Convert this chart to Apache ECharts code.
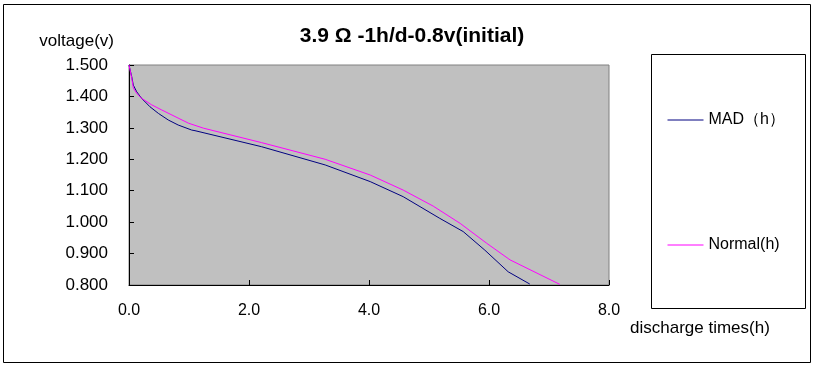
<!DOCTYPE html>
<html>
<head>
<meta charset="utf-8">
<script src="https://cdn.jsdelivr.net/npm/echarts@6/dist/echarts.min.js"></script>
<style>
html,body{margin:0;padding:0;background:#fff;}
#chart{width:815px;height:367px;}
</style>
</head>
<body>
<div id="chart"></div>
<script>
var titleText = '3.9 Ω -1h/d-0.8v(initial)';
var seriesNames = ['MAD（h）', 'Normal(h)'];
var xTicks = [0, 2, 4, 6, 8];
var yTicks = [0.8, 0.9, 1.0, 1.1, 1.2, 1.3, 1.4, 1.5];

var madTimes = [0, 0.045, 0.072, 0.128, 0.21, 0.35, 0.49, 0.655, 0.82, 1.045, 1.1, 2.21, 3.27, 4.02, 4.57, 5.18, 5.57, 5.93, 6.32, 6.68];
var madVolts = [1.5, 1.463, 1.436, 1.415, 1.394, 1.367, 1.346, 1.325, 1.309, 1.293, 1.291, 1.240, 1.182, 1.129, 1.081, 1.012, 0.970, 0.911, 0.842, 0.803];

var normalTimes = [0, 0.017, 0.045, 0.072, 0.128, 0.21, 0.38, 0.545, 0.767, 0.99, 1.24, 2.21, 3.27, 4.02, 4.57, 5.07, 5.52, 5.96, 6.35, 7.18];
var normalVolts = [1.5, 1.495, 1.459, 1.427, 1.41, 1.394, 1.373, 1.357, 1.336, 1.315, 1.299, 1.253, 1.2, 1.15, 1.102, 1.051, 0.996, 0.933, 0.88, 0.802];

function pairs(xs, ys) {
  return xs.map(function (x, i) { return [x, ys[i]]; });
}

var chart = echarts.init(document.getElementById('chart'));
var font = 'Arial, "Liberation Sans", sans-serif';

function legendFor(name, top) {
  return {
    orient: 'horizontal',
    left: 667,
    top: top,
    padding: 0,
    itemWidth: 36,
    itemHeight: 14,
    itemGap: 0,
    itemStyle: { opacity: 0 },
    lineStyle: { width: 1 },
    textStyle: { fontSize: 16, color: '#000', fontFamily: font },
    data: [name]
  };
}

chart.setOption({
  animation: false,
  backgroundColor: '#ffffff',
  textStyle: { fontFamily: font },
  title: {
    text: titleText,
    left: 407,
    textAlign: 'center',
    top: 21,
    textStyle: { fontSize: 21, fontWeight: 'bold', color: '#000', fontFamily: font }
  },
  grid: {
    left: 129, top: 65, width: 480, height: 220,
    show: true, backgroundColor: '#C0C0C0', borderColor: '#808080', borderWidth: 1
  },
  legend: [legendFor(seriesNames[0], 112), legendFor(seriesNames[1], 237)],
  xAxis: {
    type: 'value',
    min: xTicks[0],
    max: xTicks[xTicks.length - 1],
    interval: 2,
    axisLine: { show: true, lineStyle: { color: '#000', width: 1 } },
    axisTick: { show: true, inside: true, length: 5, lineStyle: { color: '#000' } },
    axisLabel: {
      margin: 18, fontSize: 16, color: '#000', fontFamily: font,
      formatter: function (v) { return v.toFixed(1); }
    },
    splitLine: { show: false }
  },
  yAxis: {
    type: 'value',
    min: yTicks[0],
    max: yTicks[yTicks.length - 1],
    interval: 0.1,
    name: 'voltage(v)',
    nameLocation: 'end',
    nameGap: 24,
    nameTextStyle: { fontSize: 17, color: '#000', fontFamily: font, align: 'right', verticalAlign: 'middle', padding: [0, 15, 0, 0] },
    axisLine: { show: true, lineStyle: { color: '#000', width: 1 } },
    axisTick: { show: true, inside: true, length: 5, lineStyle: { color: '#000' } },
    axisLabel: {
      margin: 21, fontSize: 17, color: '#000', fontFamily: font,
      formatter: function (v) { return v.toFixed(3); }
    },
    splitLine: { show: false }
  },
  graphic: [
    { type: 'rect', shape: { x: 3.5, y: 4.5, width: 807, height: 358 }, style: { fill: 'none', stroke: '#000', lineWidth: 1 }, silent: true },
    { type: 'rect', shape: { x: 651.5, y: 54.5, width: 154, height: 254 }, style: { fill: 'none', stroke: '#000', lineWidth: 1 }, silent: true },
    { type: 'text', left: 630, top: 320, style: { text: 'discharge times(h)', font: '17px Arial, "Liberation Sans", sans-serif', fill: '#000' } }
  ],
  series: [
    {
      name: seriesNames[0], type: 'line', symbol: 'none', smooth: false,
      lineStyle: { color: '#000080', width: 1 }, itemStyle: { color: '#000080' },
      data: pairs(madTimes, madVolts)
    },
    {
      name: seriesNames[1], type: 'line', symbol: 'none', smooth: false,
      lineStyle: { color: '#FF00FF', width: 1 }, itemStyle: { color: '#FF00FF' },
      data: pairs(normalTimes, normalVolts)
    }
  ]
});
</script>
</body>
</html>
